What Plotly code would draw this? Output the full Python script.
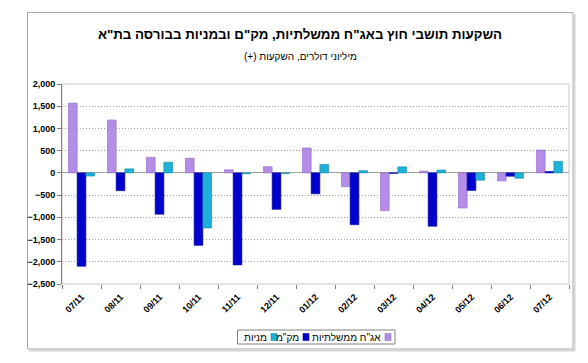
import plotly.graph_objects as go

months = ["07/11", "08/11", "09/11", "10/11", "11/11", "12/11", "01/12",
          "02/12", "03/12", "04/12", "05/12", "06/12", "07/12"]
gov_bonds = [1570, 1190, 350, 330, 70, 140, 560, -310, -850, 40, -790, -180, 515]
makam = [-2100, -400, -930, -1630, -2070, -820, -470, -1165, -10, -1200, -395, -75, 30]
shares = [-70, 90, 240, -1240, -20, -15, 190, 50, 135, 65, -165, -120, 260]

names = ['אג"ח ממשלתיות', 'מק"מ', 'מניות']
colors = ["#B48EE6", "#0000CC", "#1DB0D8"]
edges = ["#8F68C4", "#00009A", "#1289AA"]

FONT = "Arial, 'Liberation Sans', sans-serif"

fig = go.Figure()
for name, vals, c, e in zip(names, [gov_bonds, makam, shares], colors, edges):
    fig.add_trace(go.Bar(x=months, y=vals, name=name,
                         marker=dict(color=c, line=dict(color=e, width=0.6))))

L, R, T, B = 62, 19, 84, 79
W, H = 588, 363
pw, ph = W - L - R, H - T - B


def px(x):
    return (x - L) / pw


def py(y):
    return (H - B - y) / ph


annotations = [dict(text='מיליוני דולרים, השקעות (+)\u200f', xref="paper", yref="paper",
                    x=px(300), y=py(56), xanchor="center", yanchor="middle",
                    showarrow=False, font=dict(size=10, family=FONT))]
shapes = [
    dict(type="rect", xref="paper", yref="paper", x0=0, x1=1, y0=0, y1=1,
         line=dict(color="#C8C8C8", width=1), layer="below"),
    dict(type="rect", xref="paper", yref="paper", x0=px(27.5), x1=px(573), y0=py(349), y1=py(12.5),
         line=dict(color="#A8A8A8", width=1), layer="below"),
    dict(type="line", xref="paper", yref="paper", x0=px(574.5), x1=px(574.5), y0=py(350), y1=py(14),
         line=dict(color="#D4D4D4", width=2), layer="below"),
    dict(type="line", xref="paper", yref="paper", x0=px(29), x1=px(575.5), y0=py(350.5), y1=py(350.5),
         line=dict(color="#D4D4D4", width=2), layer="below"),
    # legend box
    dict(type="rect", xref="paper", yref="paper", x0=px(237.5), x1=px(395), y0=py(344), y1=py(330),
         line=dict(color="#808080", width=1), fillcolor="white"),
]

# manual right-to-left legend (symbol to the right of each label)
legend_square_right = [391, 309, 277]
ly = 337
for name, c, e, sr in zip(names, colors, edges, legend_square_right):
    shapes.append(dict(type="rect", xref="paper", yref="paper",
                       x0=px(sr - 6), x1=px(sr), y0=py(ly + 3.5), y1=py(ly - 3.5),
                       fillcolor=c, line=dict(color=e, width=0.6)))
    annotations.append(dict(text=name, xref="paper", yref="paper", x=px(sr - 8), y=py(ly),
                            xanchor="right", yanchor="middle", showarrow=False,
                            font=dict(size=10, family=FONT)))

fig.update_layout(
    width=W, height=H,
    margin=dict(l=L, r=R, t=T, b=B, autoexpand=False),
    paper_bgcolor="white", plot_bgcolor="white",
    barmode="group", bargap=0.33, bargroupgap=0,
    font=dict(family=FONT, color="black"),
    title=dict(text='השקעות תושבי חוץ באג"ח ממשלתיות, מק"ם ובמניות בבורסה בת"א',
               x=300 / W, xref="container", xanchor="center",
               y=1 - 34 / H, yref="container", yanchor="middle",
               font=dict(size=13.3, family=FONT, weight="bold")),
    showlegend=False,
    xaxis=dict(type="category", tickangle=-45, tickfont=dict(size=9, family=FONT, weight="bold"),
               ticks="outside", tickson="boundaries", ticklen=4, tickcolor="#808080",
               ticklabelstandoff=5, automargin=False,
               showline=False, showgrid=False, zeroline=False),
    yaxis=dict(range=[-2500, 2000], dtick=500, tickformat=",d", automargin=False,
               tickfont=dict(size=9, family=FONT, weight="bold"),
               ticks="outside", ticklen=4, tickcolor="#808080",
               showline=True, linecolor="#808080", linewidth=1,
               showgrid=True, gridcolor="#9A9A9A", griddash="1px,2px", gridwidth=1,
               zeroline=True, zerolinecolor="#A0A0A0", zerolinewidth=1),
    annotations=annotations,
    shapes=shapes,
)

fig.write_html("out.html", config={"displayModeBar": False},
               post_script="document.body.style.margin='0';")
